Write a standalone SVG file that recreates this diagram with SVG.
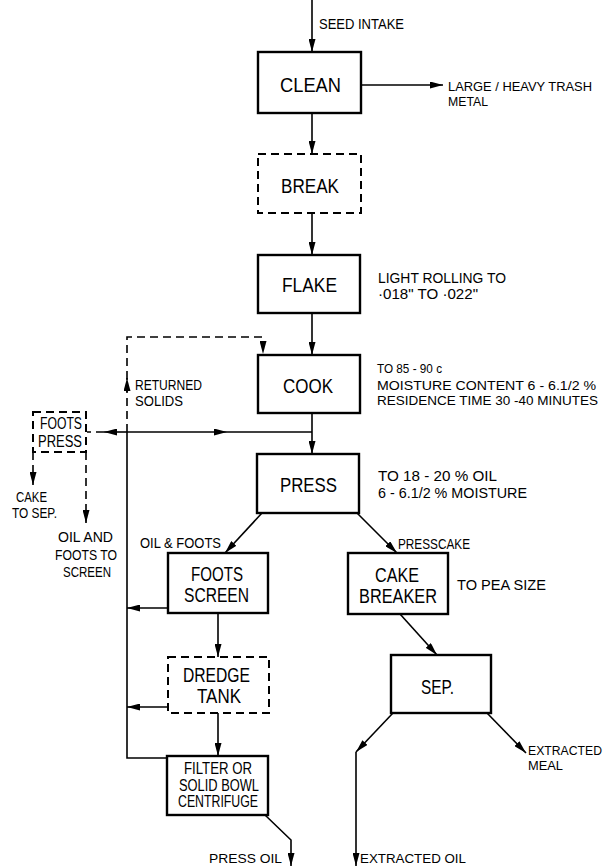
<svg xmlns="http://www.w3.org/2000/svg" width="604" height="866" viewBox="0 0 604 866">
<style>
.box{fill:#fff;stroke:#000;stroke-width:2.4}
.dbox{fill:#fff;stroke:#000;stroke-width:2;stroke-dasharray:8 5}
.ln{fill:none;stroke:#000;stroke-width:1.6}
.dl{fill:none;stroke:#000;stroke-width:1.6;stroke-dasharray:8 5}
text{font-family:"Liberation Sans",Arial,sans-serif;fill:#000}
.big{font-size:20px;text-anchor:middle}
.mid{font-size:16px;text-anchor:middle}
.sm{font-size:14.5px}
.sr{font-size:13px}
.smc{font-size:14.5px;text-anchor:middle}
</style>
<defs>
<marker id="ah" viewBox="0 0 13 7" refX="13" refY="3.5" markerWidth="13" markerHeight="7" markerUnits="userSpaceOnUse" orient="auto"><path d="M0,0 L13,3.5 L0,7 z" fill="#000"/></marker>
</defs>
<rect width="604" height="866" fill="#fff"/>

<g id="connectors">
<path class="ln" d="M312,0 L312,52" marker-end="url(#ah)"/>
<path class="ln" d="M361,85 L443,85" marker-end="url(#ah)"/>
<path class="ln" d="M312,113 L312,154" marker-end="url(#ah)"/>
<path class="ln" d="M312,213 L312,255" marker-end="url(#ah)"/>
<path class="ln" d="M312,313 L312,355" marker-end="url(#ah)"/>
<path class="ln" d="M312,413 L312,454" marker-end="url(#ah)"/>
<path class="ln" d="M127,432 L227,432" marker-end="url(#ah)"/>
<path class="ln" d="M227,432 L312,432"/>
<path class="ln" d="M127,432 L104,432" marker-end="url(#ah)"/>
<path class="dl" d="M104,432 L87,432"/>
<path class="dl" d="M127,432 L127,378" marker-end="url(#ah)"/>
<path class="dl" d="M127,392 L127,337 L263,337 L263,354" marker-end="url(#ah)"/>
<path class="dl" d="M33,452 L33,485" marker-end="url(#ah)"/>
<path class="dl" d="M86,452 L86,523" marker-end="url(#ah)"/>
<path class="ln" d="M127,432 L127,758 L167,758"/>
<path class="ln" d="M262,513 L225,553" marker-end="url(#ah)"/>
<path class="ln" d="M357,513 L397,553" marker-end="url(#ah)"/>
<path class="ln" d="M168,608 L127,608" marker-end="url(#ah)"/>
<path class="ln" d="M168,707 L127,707" marker-end="url(#ah)"/>
<path class="ln" d="M218,613 L218,657" marker-end="url(#ah)"/>
<path class="ln" d="M218,713 L218,756" marker-end="url(#ah)"/>
<path class="ln" d="M265,815 L291,840 L291,866" marker-end="url(#ah)"/>
<path class="ln" d="M400,614 L437,655" marker-end="url(#ah)"/>
<path class="ln" d="M393,713 L356,752" marker-end="url(#ah)"/>
<path class="ln" d="M356,752 L356,866" marker-end="url(#ah)"/>
<path class="ln" d="M487,713 L526,753" marker-end="url(#ah)"/>
</g>

<g id="clean"><rect class="box" x="258" y="52" width="103" height="61"/><text class="big" x="310.5" y="92" textLength="61" lengthAdjust="spacingAndGlyphs">CLEAN</text></g>
<g id="break"><rect class="dbox" x="258" y="154" width="103" height="59"/><text class="big" x="310" y="193" textLength="58" lengthAdjust="spacingAndGlyphs">BREAK</text></g>
<g id="flake"><rect class="box" x="258" y="255" width="102" height="58"/><text class="big" x="309.5" y="292" textLength="55" lengthAdjust="spacingAndGlyphs">FLAKE</text></g>
<g id="cook"><rect class="box" x="258" y="355" width="102" height="58"/><text class="big" x="308" y="393" textLength="50" lengthAdjust="spacingAndGlyphs">COOK</text></g>
<g id="press"><rect class="box" x="257" y="454" width="102" height="59"/><text class="big" x="308.5" y="492" textLength="57" lengthAdjust="spacingAndGlyphs">PRESS</text></g>
<g id="foots-press"><rect class="dbox" x="33" y="412" width="53" height="40"/><text class="mid" x="61" y="429" textLength="42" lengthAdjust="spacingAndGlyphs">FOOTS</text><text class="mid" x="60" y="447" textLength="44" lengthAdjust="spacingAndGlyphs">PRESS</text></g>
<g id="foots-screen"><rect class="box" x="168" y="553" width="100" height="60"/><text class="big" x="217" y="581" textLength="52" lengthAdjust="spacingAndGlyphs">FOOTS</text><text class="big" x="216.5" y="602" textLength="65" lengthAdjust="spacingAndGlyphs">SCREEN</text></g>
<g id="cake-breaker"><rect class="box" x="348" y="553" width="100" height="61"/><text class="big" x="397" y="582" textLength="44" lengthAdjust="spacingAndGlyphs">CAKE</text><text class="big" x="398" y="603" textLength="78" lengthAdjust="spacingAndGlyphs">BREAKER</text></g>
<g id="dredge-tank"><rect class="dbox" x="168" y="657" width="101" height="56"/><text class="big" x="216.5" y="682" textLength="67" lengthAdjust="spacingAndGlyphs">DREDGE</text><text class="big" x="219" y="703" textLength="44" lengthAdjust="spacingAndGlyphs">TANK</text></g>
<g id="sep"><rect class="box" x="391" y="655" width="100" height="58"/><text class="big" x="437.5" y="694" textLength="33" lengthAdjust="spacingAndGlyphs">SEP.</text></g>
<g id="filter"><rect class="box" x="167" y="756" width="101" height="59"/><text class="mid" x="218" y="774" textLength="68" lengthAdjust="spacingAndGlyphs">FILTER OR</text><text class="mid" x="219" y="791" textLength="80" lengthAdjust="spacingAndGlyphs">SOLID BOWL</text><text class="mid" x="218" y="807" textLength="80" lengthAdjust="spacingAndGlyphs">CENTRIFUGE</text></g>

<g id="labels">
<text class="sm" x="319" y="29" textLength="85" lengthAdjust="spacingAndGlyphs">SEED INTAKE</text>
<text class="sr" x="448" y="91" textLength="144" lengthAdjust="spacingAndGlyphs">LARGE / HEAVY TRASH</text>
<text class="sr" x="448" y="106" textLength="40" lengthAdjust="spacingAndGlyphs">METAL</text>
<text class="sm" x="378" y="283" textLength="128" lengthAdjust="spacingAndGlyphs">LIGHT ROLLING TO</text>
<text class="sm" x="378" y="299" textLength="100" lengthAdjust="spacingAndGlyphs">·018" TO ·022"</text>
<text class="sr" x="377" y="373" textLength="65" lengthAdjust="spacingAndGlyphs">TO 85 - 90 c</text>
<text class="sr" x="377" y="390" textLength="219" lengthAdjust="spacingAndGlyphs">MOISTURE CONTENT 6 - 6.1/2 %</text>
<text class="sr" x="377" y="405" textLength="221" lengthAdjust="spacingAndGlyphs">RESIDENCE TIME 30 -40 MINUTES</text>
<text class="sm" x="135" y="390" textLength="67" lengthAdjust="spacingAndGlyphs">RETURNED</text>
<text class="sm" x="135" y="406" textLength="48" lengthAdjust="spacingAndGlyphs">SOLIDS</text>
<text class="sm" x="378" y="481" textLength="119" lengthAdjust="spacingAndGlyphs">TO 18 - 20 % OIL</text>
<text class="sm" x="378" y="498" textLength="149" lengthAdjust="spacingAndGlyphs">6 - 6.1/2 % MOISTURE</text>
<text class="smc" x="31.5" y="502" textLength="31" lengthAdjust="spacingAndGlyphs">CAKE</text>
<text class="smc" x="34.5" y="518" textLength="45" lengthAdjust="spacingAndGlyphs">TO SEP.</text>
<text class="smc" x="85.5" y="542" textLength="55" lengthAdjust="spacingAndGlyphs">OIL AND</text>
<text class="smc" x="86" y="560" textLength="62" lengthAdjust="spacingAndGlyphs">FOOTS TO</text>
<text class="smc" x="87" y="577" textLength="48" lengthAdjust="spacingAndGlyphs">SCREEN</text>
<text class="sm" x="140" y="548" textLength="81" lengthAdjust="spacingAndGlyphs">OIL &amp; FOOTS</text>
<text class="sm" x="398" y="549" textLength="72" lengthAdjust="spacingAndGlyphs">PRESSCAKE</text>
<text class="sm" x="457" y="590" textLength="89" lengthAdjust="spacingAndGlyphs">TO PEA SIZE</text>
<text x="528" y="755" font-size="12.5" textLength="74" lengthAdjust="spacingAndGlyphs">EXTRACTED</text>
<text x="528" y="770" font-size="12.5" textLength="35" lengthAdjust="spacingAndGlyphs">MEAL</text>
<text class="sr" x="209" y="863" textLength="73" lengthAdjust="spacingAndGlyphs">PRESS OIL</text>
<text class="sr" x="360" y="863" textLength="106" lengthAdjust="spacingAndGlyphs">EXTRACTED OIL</text>
</g>
</svg>
